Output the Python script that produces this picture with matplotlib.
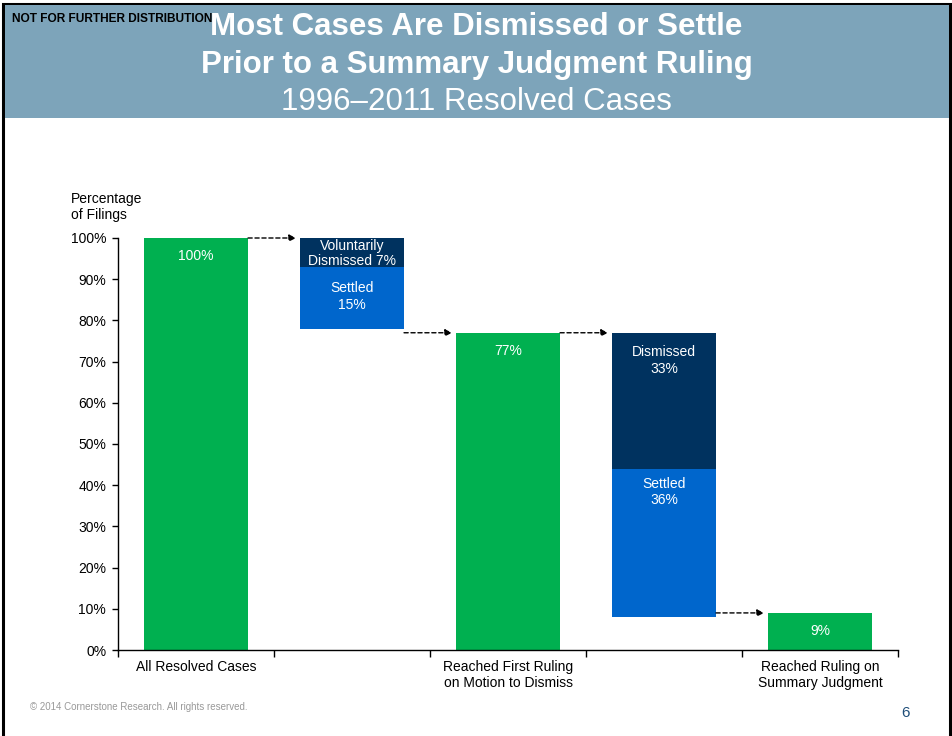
import matplotlib
matplotlib.use("Agg")
import matplotlib.pyplot as plt
from matplotlib.patches import Rectangle

plt.rcParams['font.family'] = ['Liberation Sans', 'DejaVu Sans']

# Waterfall data (percentage of filings)
stage_labels = ["All Resolved Cases", "", "Reached First Ruling\non Motion to Dismiss", "", "Reached Ruling on\nSummary Judgment"]
stage_totals = [100, 77, 9]              # green bars at positions 0, 2, 4
mtd_outcomes = ["Voluntarily\nDismissed", "Settled"]
mtd_values = [7, 15]                      # position 1, stacked top-down from 100
sj_outcomes = ["Dismissed", "Settled"]
sj_values = [33, 36]                      # position 3, stacked top-down from 77
yticks = [0, 10, 20, 30, 40, 50, 60, 70, 80, 90, 100]

GREEN = "#00B050"
NAVY = "#00325F"
BLUE = "#0066CC"
HEADER = "#7DA4BA"

W, H = 953, 736
fig = plt.figure(figsize=(W / 100, H / 100), dpi=100)

# page frame and header band
fig.add_artist(Rectangle((3.5 / W, -0.1), 946.5 / W, 1.1 - 4 / H, transform=fig.transFigure,
                         fill=False, edgecolor="black", linewidth=2.2))
fig.add_artist(Rectangle((5 / W, 1 - 118 / H), 944 / W, 113 / H, transform=fig.transFigure,
                         facecolor=HEADER, edgecolor="none"))

fig.text(12 / W, 1 - 19 / H, "NOT FOR FURTHER DISTRIBUTION", fontsize=8.6, fontweight="bold",
         family=["Liberation Sans Narrow", "Liberation Sans"], color="black", va="center", ha="left")
fig.text(0.5, 1 - 27 / H, "Most Cases Are Dismissed or Settle", fontsize=22.5, fontweight="bold",
         color="white", ha="center", va="center")
fig.text(0.5, 1 - 65 / H, "Prior to a Summary Judgment Ruling", fontsize=22.5, fontweight="bold",
         color="white", ha="center", va="center")
fig.text(0.5, 1 - 102 / H, "1996\u20132011 Resolved Cases", fontsize=22.5,
         color="white", ha="center", va="center")

ax = fig.add_axes([118 / W, 1 - 650 / H, 780 / W, 412 / H])
ax.set_xlim(-0.5, 4.5)
ax.set_ylim(0, 100)
for s in ["top", "right"]:
    ax.spines[s].set_visible(False)
for s in ["left", "bottom"]:
    ax.spines[s].set_linewidth(1.0)

bw = 0.667
green_pos = [0, 2, 4]
ax.bar(green_pos, stage_totals, width=bw, color=GREEN, zorder=2)

def stack_down(pos, start, values, colors):
    top = start
    spans = []
    for v, c in zip(values, colors):
        ax.bar(pos, v, bottom=top - v, width=bw, color=c, zorder=2)
        spans.append((top - v, top))
        top -= v
    return spans

mtd_spans = stack_down(1, stage_totals[0], mtd_values, [NAVY, BLUE])
sj_spans = stack_down(3, stage_totals[1], sj_values, [NAVY, BLUE])

lab = dict(color="white", fontsize=10, ha="center", va="top", zorder=3, linespacing=1.25)
px = 100 / 412  # data units per pixel
for p, v in zip(green_pos, stage_totals):
    if v > 20:
        ax.text(p, v - 11 * px, f"{v}%", **lab)
    else:
        ax.text(p, v / 2, f"{v}%", **{**lab, "va": "center"})

ax.text(1, (mtd_spans[0][0] + mtd_spans[0][1]) / 2 - 1.5 * px,
        f"{mtd_outcomes[0]} {mtd_values[0]}%", **{**lab, "va": "center", "linespacing": 1.1})
ax.text(1, mtd_spans[1][1] - 14 * px, f"{mtd_outcomes[1]}\n{mtd_values[1]}%", **lab)
ax.text(3, sj_spans[0][1] - 12 * px, f"{sj_outcomes[0]}\n{sj_values[0]}%", **lab)
ax.text(3, sj_spans[1][1] - 8 * px, f"{sj_outcomes[1]}\n{sj_values[1]}%", **lab)

# dashed connectors between stages
def connector(x0, y):
    x_start = x0 + bw / 2
    x_end = x0 + 1 - bw / 2 - 0.025
    ax.annotate("", xy=(x_end, y), xytext=(x_start, y),
                arrowprops=dict(arrowstyle="-|>", linestyle=(0, (3, 2)), color="black",
                                lw=1.0, mutation_scale=10, shrinkA=0, shrinkB=0), zorder=4)

connector(0, stage_totals[0])
connector(1, stage_totals[1])
connector(2, stage_totals[1])
connector(3, stage_totals[2])

ax.set_yticks(yticks)
ax.set_yticklabels([f"{t}%" for t in yticks], fontsize=10)
ax.tick_params(axis="y", direction="out", length=4, width=1, pad=4.5)

ax.set_xticks(range(5))
ax.set_xticklabels(stage_labels, fontsize=10, linespacing=1.2)
ax.tick_params(axis="x", length=0, pad=7)
ax.set_xticks([i - 0.5 for i in range(6)], minor=True)
ax.tick_params(axis="x", which="minor", direction="out", length=5, width=1)

fig.text(71 / W, 1 - 192 / H, "Percentage\nof Filings", fontsize=10, ha="left", va="top",
         linespacing=1.15)

fig.text(30 / W, 1 - 707 / H, "\u00a9 2014 Cornerstone Research. All rights reserved.",
         fontsize=7, color="#999999", ha="left", va="center")
fig.text(906 / W, 1 - 713 / H, "6", fontsize=11, color="#1F4E79", ha="center", va="center")

fig.savefig("out.png", dpi=100)
